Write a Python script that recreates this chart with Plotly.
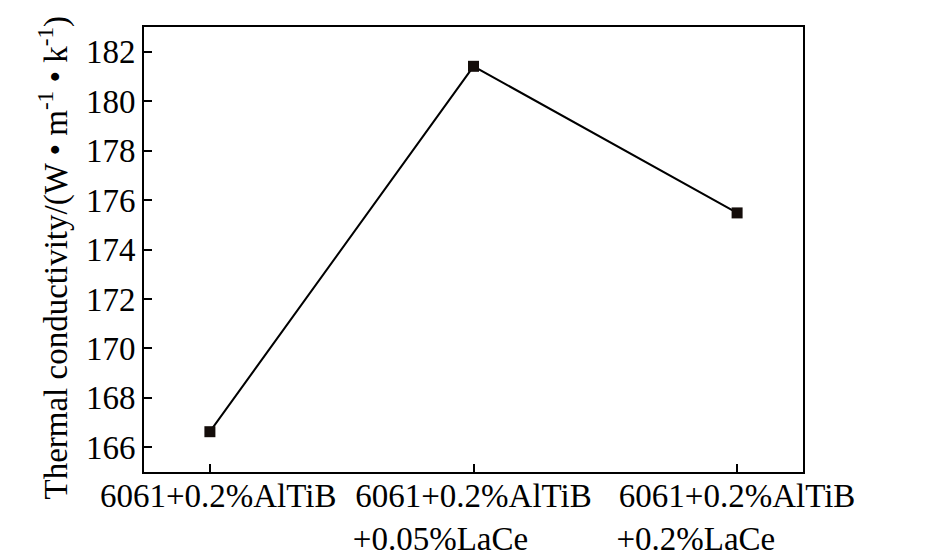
import plotly.graph_objects as go

categories = ["6061+0.2%AlTiB", "6061+0.2%AlTiB<br>+0.05%LaCe", "6061+0.2%AlTiB<br>+0.2%LaCe"]
conductivity = [166.63, 181.41, 175.48]
y_ticks = [166, 168, 170, 172, 174, 176, 178, 180, 182]

NB = "\u00a0"
ZW = "\u200b"
tick_text = [
    NB * 2 + "6061+0.2%AlTiB",
    "6061+0.2%AlTiB<br>+0.05%LaCe" + NB * 8 + ZW,
    "6061+0.2%AlTiB<br>+0.2%LaCe" + NB * 10 + ZW,
]
x_pos = list(range(len(categories)))
y_title = "Thermal conductivity/(W • m<sup>-1</sup> • k<sup>-1</sup>)" + NB * 2 + ZW

fig = go.Figure()
fig.add_trace(go.Scatter(
    x=x_pos, y=conductivity, mode="lines+markers",
    line=dict(color="#000000", width=2),
    marker=dict(symbol="square", size=11, color="#140d0a"),
    showlegend=False,
))

font = dict(family="Liberation Serif", size=33, color="#000000")

fig.update_layout(
    width=921, height=550,
    margin=dict(l=136, r=126, t=19, b=86),
    paper_bgcolor="white", plot_bgcolor="white",
    font=font,
    xaxis=dict(
        range=[-0.25, 2.25], tickvals=x_pos, ticktext=tick_text,
        showline=True, linecolor="black", linewidth=2, mirror=True,
        ticks="inside", ticklen=8, tickwidth=1.5, tickcolor="black",
        showgrid=False, zeroline=False, tickangle=0, automargin=False,
        ticklabelstandoff=-7,
    ),
    yaxis=dict(
        range=[165, 183], tickvals=y_ticks,
        showline=True, linecolor="black", linewidth=2, mirror=True,
        ticks="inside", ticklen=8, tickwidth=1.5, tickcolor="black",
        showgrid=False, zeroline=False, automargin=False,
        ticklabelstandoff=0,
        title=dict(text=y_title, standoff=8, font=font),
    ),
)

fig.write_html("out.html")
